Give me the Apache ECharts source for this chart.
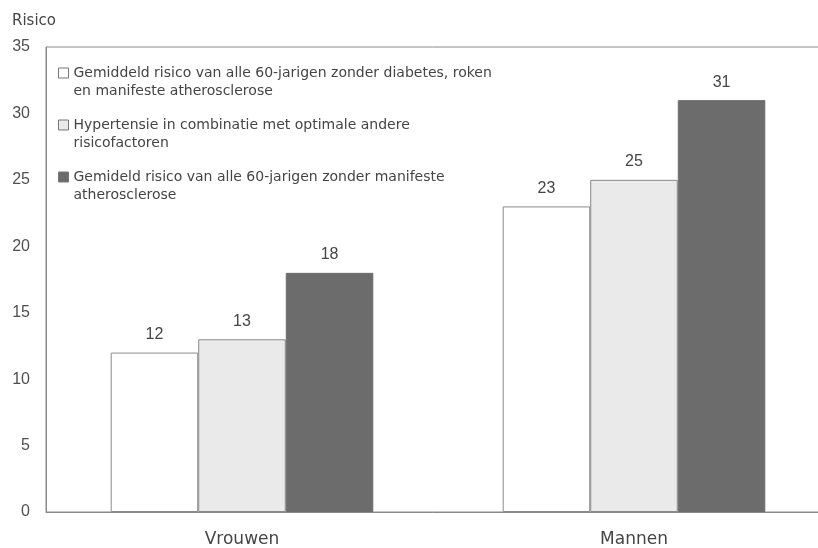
<!DOCTYPE html>
<html>
<head>
<meta charset="utf-8">
<script src="https://cdn.jsdelivr.net/npm/echarts@6/dist/echarts.min.js"></script>
<style>
html,body{margin:0;padding:0;background:#fff;}
#chart{width:818px;height:548px;}
</style>
</head>
<body>
<div id="chart"></div>
<script>
const categories = ['Vrouwen', 'Mannen'];
const seriesNames = [
  'Gemiddeld risico van alle 60-jarigen zonder diabetes, roken\nen manifeste atherosclerose',
  'Hypertensie in combinatie met optimale andere\nrisicofactoren',
  'Gemideld risico van alle 60-jarigen zonder manifeste\natherosclerose'
];
const valuesNoDiabetes = [12, 23];
const valuesHypertensie = [13, 25];
const valuesAll = [18, 31];
const yTicks = { min: 0, max: 35, interval: 5 };
const yAxisName = 'Risico';

const FONT = 'DejaVu Sans';
const NUMFONT = 'Liberation Sans';
const colors = ['#ffffff', '#eaeaea', '#6c6c6c'];
const borders = ['#8a8a8a', '#8a8a8a', '#6c6c6c'];
const dataSets = [valuesNoDiabetes, valuesHypertensie, valuesAll];

const chart = echarts.init(document.getElementById('chart'), null, { renderer: 'canvas' });
chart.setOption({
  animation: false,
  backgroundColor: '#ffffff',
  textStyle: { fontFamily: FONT },
  grid: {
    left: 46, width: 784, top: 47, bottom: 36,
    outerBoundsMode: 'none',
    show: true, borderColor: '#8a8a8a', borderWidth: 1, containLabel: false
  },
  legend: {
    orient: 'vertical',
    left: 58, top: 46, padding: 0,
    itemGap: -2,
    itemWidth: 10, itemHeight: 10,
    icon: 'rect',
    selectedMode: false,
    itemStyle: { borderColor: '#777777', borderWidth: 1 },
    textStyle: { fontSize: 14, color: '#454545', lineHeight: 18, fontFamily: FONT },
    formatter: function (name) { return ' \n' + name; },
    data: seriesNames
  },
  xAxis: {
    type: 'category',
    data: categories,
    axisLine: { show: true, lineStyle: { color: '#8a8a8a', width: 1 } },
    axisTick: { show: false },
    axisLabel: { fontSize: 17, color: '#454545', margin: 19, fontFamily: FONT }
  },
  yAxis: {
    type: 'value',
    min: yTicks.min, max: yTicks.max, interval: yTicks.interval,
    name: yAxisName,
    nameLocation: 'end',
    nameGap: 18,
    nameTextStyle: { fontSize: 15, color: '#454545', align: 'left', padding: [0, 0, 0, -34], fontFamily: FONT },
    axisLine: { show: true, lineStyle: { color: '#8a8a8a', width: 1 } },
    axisTick: { show: false },
    splitLine: { show: false },
    axisLabel: { fontSize: 16, color: '#505050', margin: 16, fontFamily: NUMFONT }
  },
  series: dataSets.map(function (d, i) {
    return {
      name: seriesNames[i],
      type: 'bar',
      data: d,
      barGap: '0%',
      barCategoryGap: '33%',
      itemStyle: { color: colors[i], borderColor: borders[i], borderWidth: 1 },
      label: { show: true, position: 'top', distance: 10, fontSize: 16, color: '#454545', fontFamily: NUMFONT }
    };
  })
});
</script>
</body>
</html>
